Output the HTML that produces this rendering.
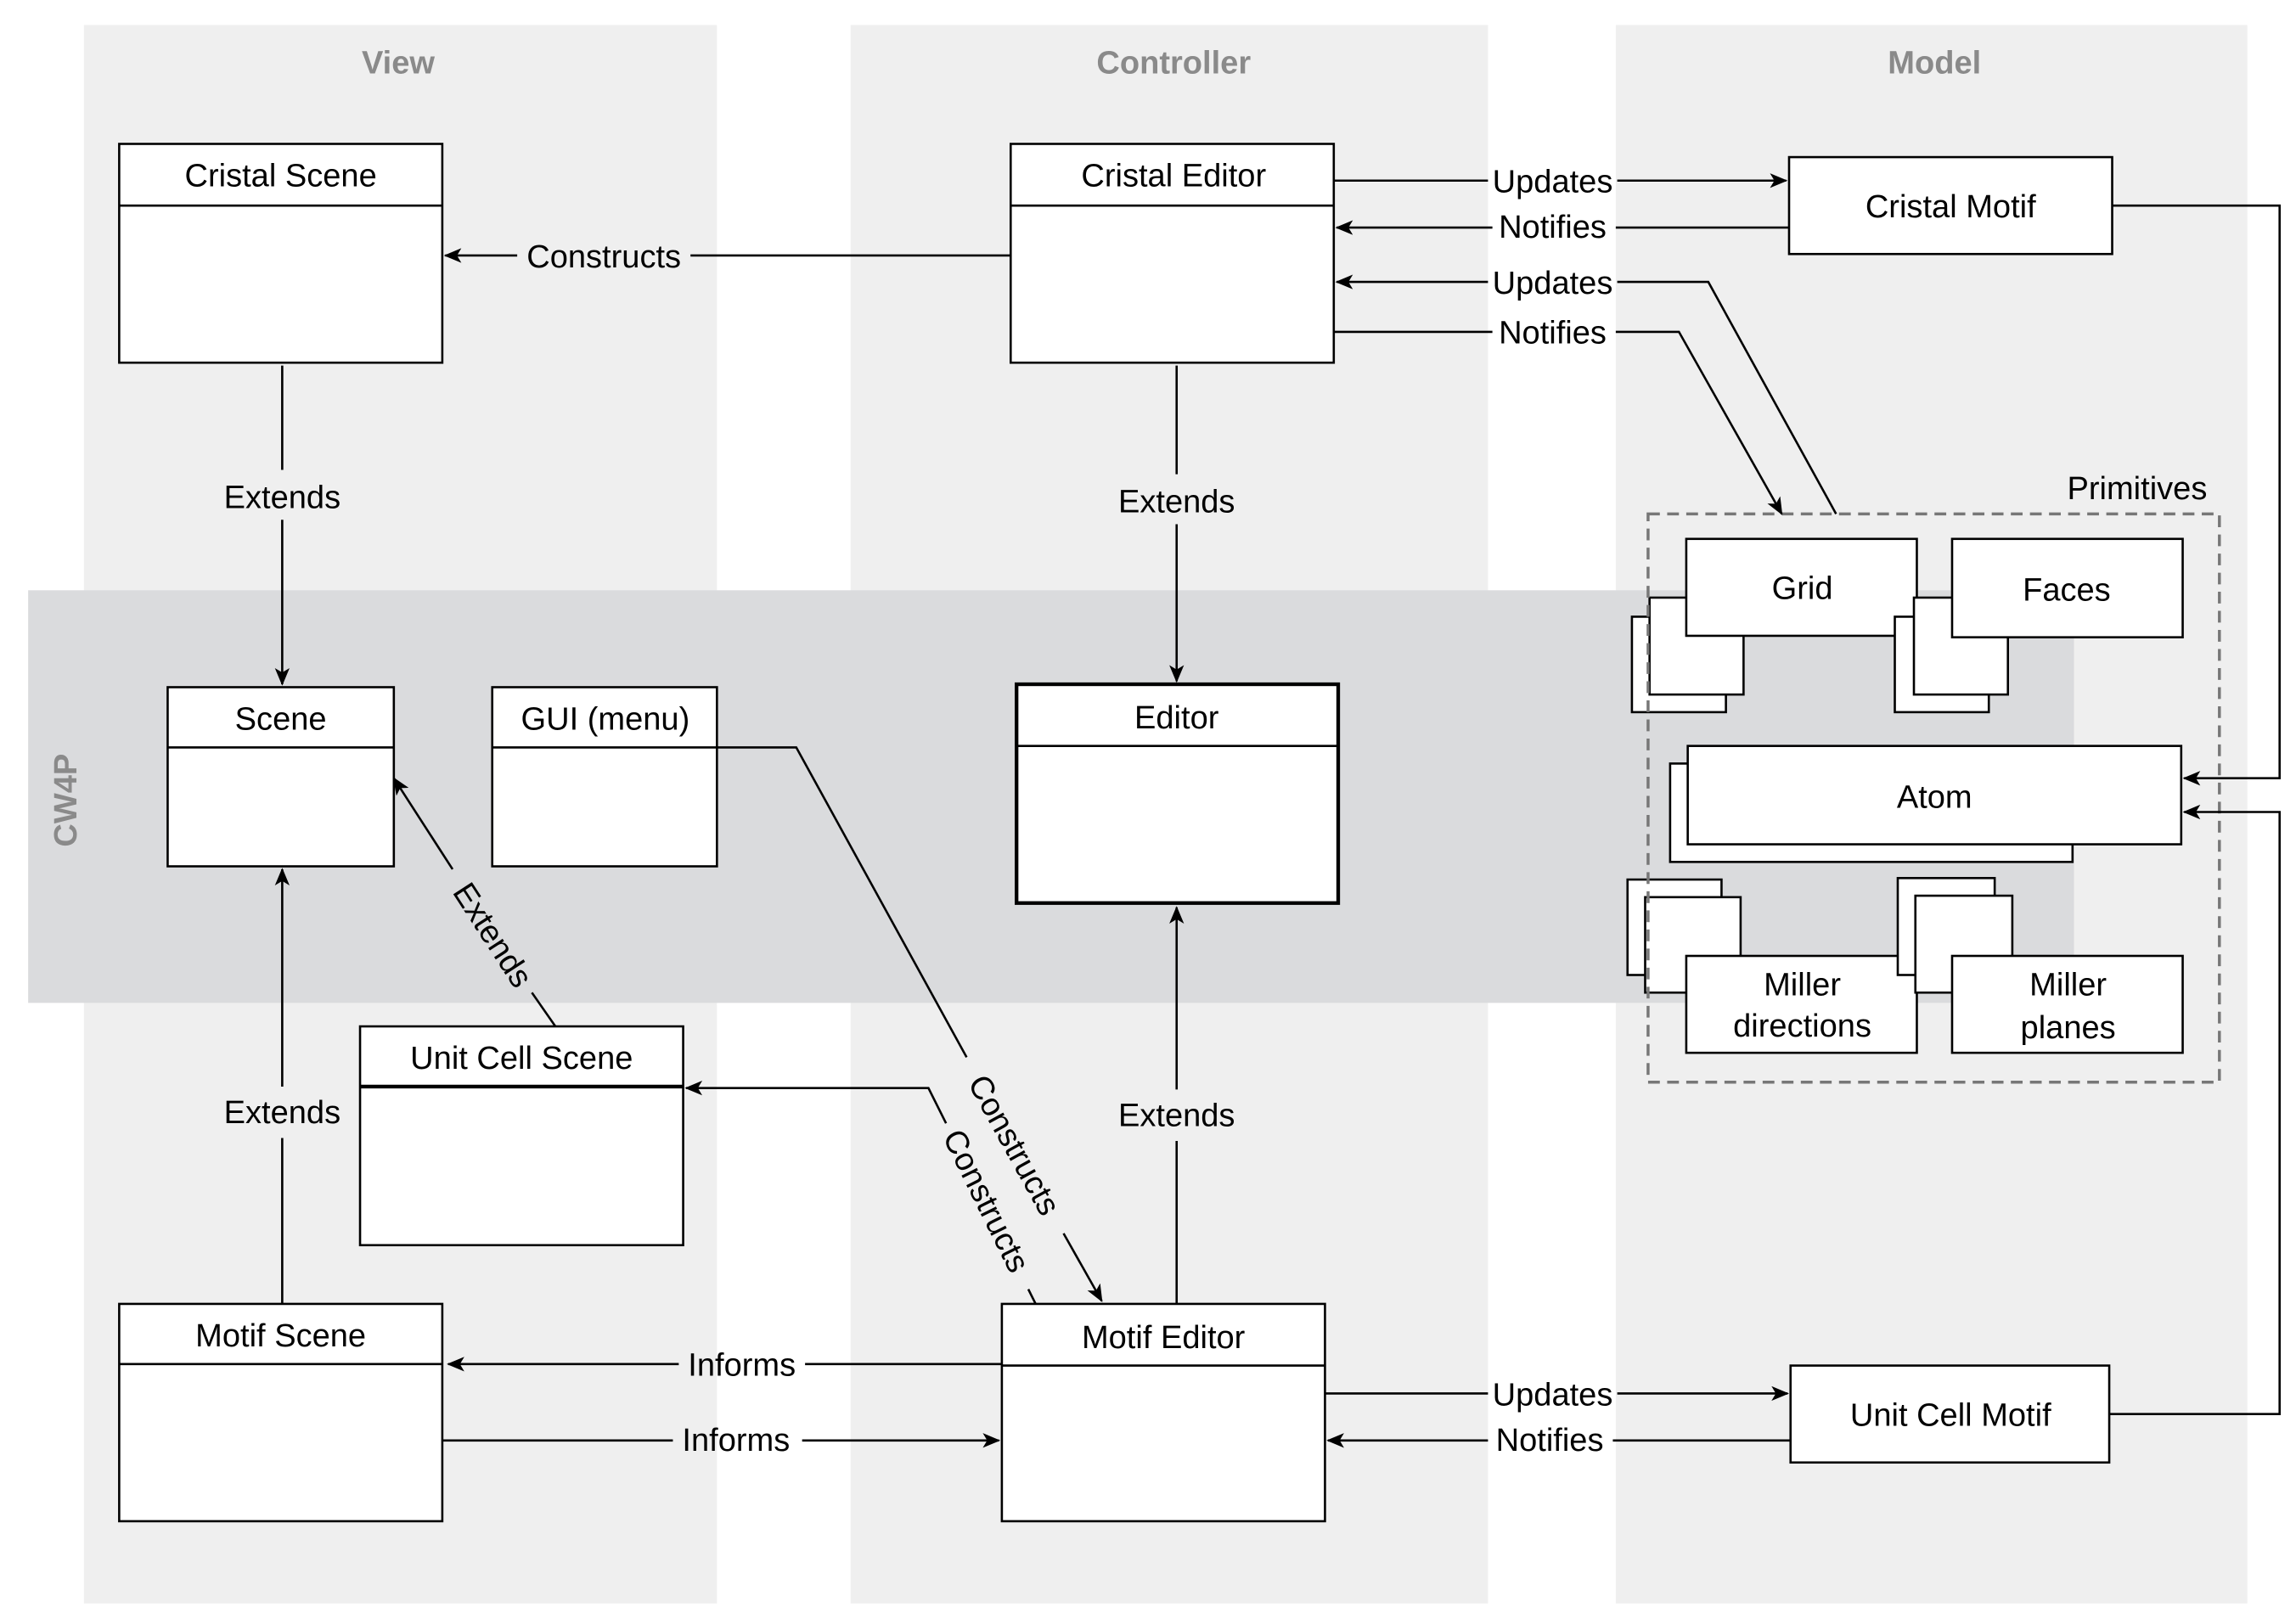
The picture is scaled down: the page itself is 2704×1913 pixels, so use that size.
<!DOCTYPE html>
<html><head><meta charset="utf-8"><style>html,body{margin:0;padding:0;background:#fff}svg{display:block}</style></head>
<body>
<svg width="2704" height="1913" viewBox="0 0 1563 1106" xmlns="http://www.w3.org/2000/svg" font-family="Liberation Sans, Arial, sans-serif">
<defs>
<marker id="a" viewBox="0 0 12 10" refX="11" refY="5" markerWidth="12" markerHeight="10" markerUnits="userSpaceOnUse" orient="auto">
<path d="M0,0 L12,5 L0,10 L3,5 z" fill="#000"/></marker>
</defs>
<rect width="1563" height="1106" fill="#fff"/>
<rect x="57" y="17" width="431" height="1075" fill="#efefef"/>
<rect x="579" y="17" width="434" height="1075" fill="#efefef"/>
<rect x="1100" y="17" width="430" height="1075" fill="#efefef"/>
<rect x="19" y="402" width="1393" height="281" fill="#dadbdd"/>
<g font-weight="bold" font-size="22" fill="#8a8a8a" text-anchor="middle">
<text x="271" y="50">View</text><text x="799" y="50">Controller</text><text x="1317" y="50">Model</text>
<text transform="translate(52,545) rotate(-90)">CW4P</text>
</g>
<g fill="#fff" stroke="#000" stroke-width="1.5">
<rect x="81" y="98" width="220" height="149"/><line x1="81" y1="140" x2="301" y2="140"/>
<rect x="688" y="98" width="220" height="149"/><line x1="688" y1="140" x2="908" y2="140"/>
<rect x="1218" y="107" width="220" height="66"/>
<rect x="114" y="468" width="154" height="122"/><line x1="114" y1="509" x2="268" y2="509"/>
<rect x="335" y="468" width="153" height="122"/><line x1="335" y1="509" x2="488" y2="509"/>
<rect x="692" y="466" width="219" height="149" stroke-width="2.5"/><line x1="692" y1="508" x2="911" y2="508"/>
<rect x="245" y="699" width="220" height="149"/><line x1="245" y1="740" x2="465" y2="740" stroke-width="2.5"/>
<rect x="81" y="888" width="220" height="148"/><line x1="81" y1="929" x2="301" y2="929"/>
<rect x="682" y="888" width="220" height="148"/><line x1="682" y1="930" x2="902" y2="930"/>
<rect x="1219" y="930" width="217" height="66"/>
<!-- primitives shadows -->
<rect x="1111" y="420" width="64" height="65"/><rect x="1123" y="407" width="64" height="66"/>
<rect x="1148" y="367" width="157" height="66"/>
<rect x="1290" y="420" width="64" height="65"/><rect x="1303" y="407" width="64" height="66"/>
<rect x="1329" y="367" width="157" height="67"/>
<rect x="1137" y="520" width="274" height="67"/>
<rect x="1149" y="508" width="336" height="67"/>
<rect x="1108" y="599" width="64" height="65"/><rect x="1120" y="611" width="65" height="65"/>
<rect x="1148" y="651" width="157" height="66"/>
<rect x="1292" y="598" width="66" height="66"/><rect x="1304" y="610" width="66" height="66"/>
<rect x="1329" y="651" width="157" height="66"/>
</g>
<rect x="1122" y="350" width="389" height="387" fill="none" stroke="#777" stroke-width="2" stroke-dasharray="8,5"/>
<g font-size="22" fill="#000" text-anchor="middle">
<text x="191" y="127">Cristal Scene</text>
<text x="799" y="127">Cristal Editor</text>
<text x="1328" y="148">Cristal Motif</text>
<text x="191" y="497">Scene</text>
<text x="412" y="497">GUI (menu)</text>
<text x="801" y="496">Editor</text>
<text x="355" y="728">Unit Cell Scene</text>
<text x="191" y="917">Motif Scene</text>
<text x="792" y="918">Motif Editor</text>
<text x="1328" y="971">Unit Cell Motif</text>
<text x="1455" y="340">Primitives</text>
<text x="1227" y="408">Grid</text>
<text x="1407" y="409">Faces</text>
<text x="1317" y="550">Atom</text>
<text x="1227" y="678">Miller</text><text x="1227" y="706">directions</text>
<text x="1408" y="678">Miller</text><text x="1408" y="707">planes</text>
<text x="411" y="182">Constructs</text>
<text x="192" y="346">Extends</text>
<text x="801" y="349">Extends</text>
<text x="192" y="765">Extends</text>
<text x="801" y="767">Extends</text>
<text x="505" y="937">Informs</text>
<text x="501" y="988">Informs</text>
<text x="1057" y="131">Updates</text>
<text x="1057" y="162">Notifies</text>
<text x="1057" y="200">Updates</text>
<text x="1057" y="234">Notifies</text>
<text x="1057" y="957">Updates</text>
<text x="1055" y="988">Notifies</text>
<text transform="translate(335,637) rotate(57)" y="7">Extends</text>
<text transform="translate(690,780) rotate(61)" y="7">Constructs</text>
<text transform="translate(671,818) rotate(63.6)" y="7">Constructs</text>
</g>
<g stroke="#000" stroke-width="1.5" fill="none">
<line x1="688" y1="174" x2="470" y2="174"/><line x1="352" y1="174" x2="303" y2="174" marker-end="url(#a)"/>
<line x1="192" y1="249" x2="192" y2="320"/><line x1="192" y1="354" x2="192" y2="466" marker-end="url(#a)"/>
<line x1="801" y1="249" x2="801" y2="323"/><line x1="801" y1="357" x2="801" y2="464" marker-end="url(#a)"/>
<line x1="192" y1="888" x2="192" y2="775"/><line x1="192" y1="740" x2="192" y2="592" marker-end="url(#a)"/>
<line x1="801" y1="888" x2="801" y2="777"/><line x1="801" y1="742" x2="801" y2="618" marker-end="url(#a)"/>
<line x1="378" y1="699" x2="362" y2="676"/><line x1="308" y1="592" x2="268" y2="530" marker-end="url(#a)"/>
<polyline points="488,509 542,509 658,720"/><line x1="724" y1="840" x2="750" y2="886" marker-end="url(#a)"/>
<line x1="705" y1="888" x2="700" y2="878"/><polyline points="644,765 632,741 467,741" marker-end="url(#a)"/>
<line x1="682" y1="929" x2="548" y2="929"/><line x1="462" y1="929" x2="305" y2="929" marker-end="url(#a)"/>
<line x1="301" y1="981" x2="458" y2="981"/><line x1="546" y1="981" x2="680" y2="981" marker-end="url(#a)"/>
<line x1="908" y1="123" x2="1013" y2="123"/><line x1="1101" y1="123" x2="1216" y2="123" marker-end="url(#a)"/>
<line x1="1218" y1="155" x2="1100" y2="155"/><line x1="1016" y1="155" x2="910" y2="155" marker-end="url(#a)"/>
<polyline points="1250,350 1163,192 1101,192"/><line x1="1013" y1="192" x2="910" y2="192" marker-end="url(#a)"/>
<line x1="908" y1="226" x2="1016" y2="226"/><polyline points="1100,226 1143,226 1213,350" marker-end="url(#a)"/>
<line x1="902" y1="949" x2="1013" y2="949"/><line x1="1101" y1="949" x2="1217" y2="949" marker-end="url(#a)"/>
<line x1="1219" y1="981" x2="1098" y2="981"/><line x1="1013" y1="981" x2="904" y2="981" marker-end="url(#a)"/>
<polyline points="1438,140 1552,140 1552,530 1487,530" marker-end="url(#a)"/>
<polyline points="1436,963 1552,963 1552,553 1487,553" marker-end="url(#a)"/>
</g>
</svg>
</body></html>
